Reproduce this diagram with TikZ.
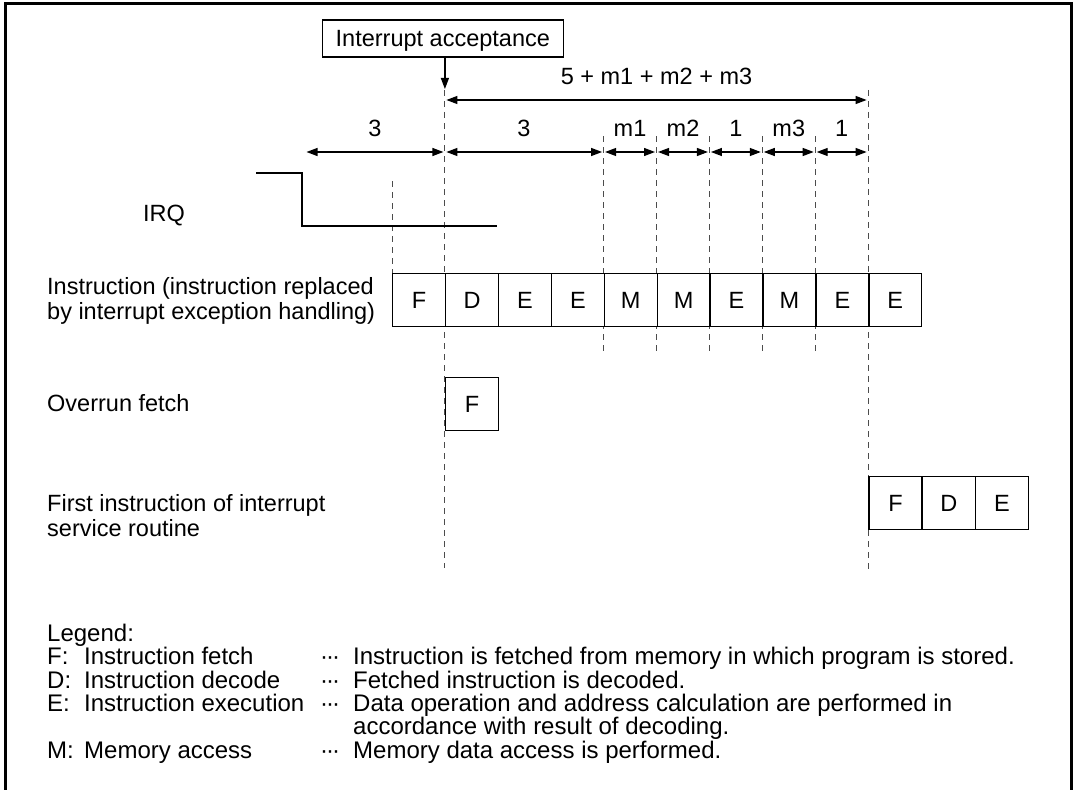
\documentclass[tikz,border=0pt]{standalone}
\usepackage{fontspec}
\setmainfont{Liberation Sans}
\usetikzlibrary{arrows.meta}
\begin{document}
\begin{tikzpicture}[x=1pt,y=-1pt,
  txt/.style={inner sep=0pt, font=\fontsize{23.5}{25}\selectfont, text height=16.8pt, text depth=0pt},
  legtxt/.style={inner sep=0pt, font=\fontsize{24}{25}\selectfont, text height=17.2pt, text depth=0pt, anchor=west},
  cell/.style={txt, draw, fill=white, line width=1.4pt, minimum width=52.9pt, minimum height=52.5pt, anchor=north west},
  guide/.style={line width=1pt, dash pattern=on 6pt off 5pt, draw=black!70},
  dim/.style={line width=1.2pt, {Triangle[length=11pt,width=8pt]}-{Triangle[length=11pt,width=8pt]}, shorten <=1.5pt, shorten >=1.5pt},
  lbl/.style={txt, anchor=west},
  ctext/.style={txt, anchor=center}]

\useasboundingbox (0,0) rectangle (1075,789);
\draw[line width=3pt] (5,800) -- (5,4) -- (1071,4) -- (1071,800);

% time marks
\foreach \n/\x in {a/392,b/444.9,c/603.6,d/656.5,e/709.4,f/762.3,g/815.2,h/868.1}
  \coordinate (t\n) at (\x,152);
\coordinate (l0) at (305,152);

% dashed guides
\draw[guide] (392,181) -- (392,273);
\draw[guide] (444.9,90) -- (444.9,568);
\foreach \x in {603.6,656.5,709.4,762.3,815.2}
  \draw[guide] (\x,136) -- (\x,352);
\draw[guide] (868.1,90) -- (868.1,572);

% interrupt acceptance
\node[txt, draw, line width=1.2pt, minimum width=241pt, minimum height=37pt] (ia) at (442.8,38.5) {Interrupt acceptance};
\coordinate (acc) at (444.9,89);
\draw[line width=1.2pt, -{Triangle[length=11pt,width=8pt]}] (ia.south -| acc) -- (acc);

% big dimension
\coordinate (bl) at (444.9,100);
\coordinate (br) at (868.1,100);
\draw[dim] (bl) -- (br);
\node[ctext] (bigl) at (656.5,76) {5 + m1 + m2 + m3};

% small dimensions
\draw[dim] (l0) -- (tb);
\draw[dim] (tb) -- (tc);
\draw[dim] (tc) -- (td);
\draw[dim] (td) -- (te);
\draw[dim] (te) -- (tf);
\draw[dim] (tf) -- (tg);
\draw[dim] (tg) -- (th);
\node[ctext] (d1) at (375,128) {3};
\node[ctext] (d2) at (524,128) {3};
\node[ctext] (d3) at (630,128) {m1};
\node[ctext] (d4) at (683,128) {m2};
\node[ctext] (d5) at (735.9,128) {1};
\node[ctext] (d6) at (788.8,128) {m3};
\node[ctext] (d7) at (841.7,128) {1};

% IRQ
\node[lbl] (irq) at (143,213) {IRQ};
\draw[line width=1.4pt] (256,173) -- (302,173) -- (302,226) -- (497,226);

% row labels
\node[lbl] (r1a) at (47,286) {Instruction (instruction replaced};
\node[lbl] (r1b) at (47,311) {by interrupt exception handling)};
\node[lbl] (r2) at (47,403) {Overrun fetch};
\node[lbl] (r3a) at (47,503) {First instruction of interrupt};
\node[lbl] (r3b) at (47,528) {service routine};

% instruction row
\foreach \t [count=\i from 0] in {F,D,E,E,M,M,E,M,E,E}
  \node[cell] (i\i) at ({392+52.9*\i},273) {\t};

% overrun fetch
\node[cell] (o0) at (444.9,377) {F};

% first instruction of ISR
\foreach \t [count=\i from 0] in {F,D,E}
  \node[cell, minimum width=53.3pt] (s\i) at ({868.1+53.3*\i},476) {\t};

% legend
\node[legtxt] (lg) at (47,633) {Legend:};
\foreach \k/\nm/\ds/\y [count=\j] in {F:/Instruction fetch/Instruction is fetched from memory in which program is stored./656,
  D:/Instruction decode/Fetched instruction is decoded./680,
  E:/Instruction execution/Data operation and address calculation are performed in/703,
  M:/Memory access/Memory data access is performed./750}{
  \node[legtxt] (lk\j) at (47,\y) {\k};
  \node[legtxt] (ln\j) at (84,\y) {\nm};
  \node[legtxt] (lt\j) at (320,\y) {·\kern-2pt·\kern-2pt·};
  \node[legtxt] (ld\j) at (353,\y) {\ds};
}
\node[legtxt] (ld3b) at (353,726) {accordance with result of decoding.};
\end{tikzpicture}
\end{document}
